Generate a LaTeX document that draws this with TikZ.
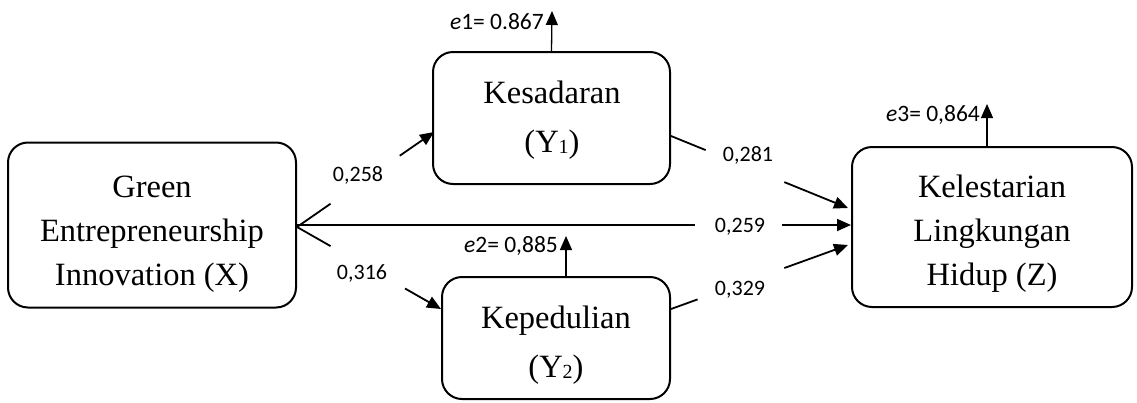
\documentclass[tikz,border=0pt]{standalone}
\usepackage{fontspec}
\setmainfont{Liberation Serif}
\newfontfamily\numfont{Carlito}
\usetikzlibrary{arrows.meta,calc}
\begin{document}
\begin{tikzpicture}[x=1pt,y=-1pt,
  box/.style={draw,line width=2pt,rounded corners=20pt,inner sep=0pt},
  boxtext/.style={align=center,inner sep=0pt},
  conn/.style={line width=1.8pt},
  arr/.style={line width=1.8pt,-{Triangle[length=14pt,width=12pt]}},
  earr/.style={line width=1.3pt,-{Triangle[length=14pt,width=12pt]}},
  coef/.style={font=\numfont\fontsize{22}{22}\selectfont,inner sep=0pt},
  elab/.style={font=\numfont\fontsize{23.5}{23.5}\selectfont,inner sep=0pt,anchor=east}]
\useasboundingbox (0,0) rectangle (1137,402);
\newcommand{\sub}[1]{\raisebox{-1pt}{\fontsize{20}{20}\selectfont #1}}
% boxes
\node[box,minimum width=288pt,minimum height=165pt] (X) at (152,225) {};
\node[boxtext,font=\fontsize{32.5}{44}\selectfont] (Xt) at (152,234) {Green\\Entrepreneurship\\Innovation (X)};
\node[box,minimum width=237pt,minimum height=132pt] (Y1) at (551.5,118) {};
\node[boxtext,font=\fontsize{32.5}{49}\selectfont] (Y1t) at (552,120) {Kesadaran\\(Y\sub{1})};
\node[box,minimum width=228pt,minimum height=122pt] (Y2) at (556,338) {};
\node[boxtext,font=\fontsize{32.5}{49}\selectfont] (Y2t) at (556,345) {Kepedulian\\(Y\sub{2})};
\node[box,minimum width=280pt,minimum height=160pt] (Z) at (992,227) {};
\node[boxtext,font=\fontsize{32.5}{44}\selectfont] (Zt) at (992,234) {Kelestarian\\Lingkungan\\Hidup (Z)};
% anchor coordinates
\coordinate (xs) at ($(X.east)+(0,2)$);
\coordinate (xh) at (X.east);
\coordinate (y1in) at ($(Y1.west)+(2,14)$);
\coordinate (y2in) at ($(Y2.west)+(0,-29)$);
\coordinate (y1out) at ($(Y1.east)+(0,18)$);
\coordinate (y2out) at ($(Y2.east)+(0,-29)$);
\coordinate (z1) at ($(Z.west)+(-3,-19)$);
\coordinate (z2) at (xh -| Z.west);
\coordinate (z3) at ($(Z.west)+(-3,18)$);
% X -> Y1
\draw[conn] (xs) -- ($(xs)!0.245!(y1in)$);
\draw[arr] ($(xs)!0.75!(y1in)$) -- (y1in);
% X -> Y2
\draw[conn] (xs) -- ($(xs)!0.233!(y2in)$);
\draw[arr] ($(xs)!0.75!(y2in)$) -- (y2in);
% X -> Z
\draw[conn] (xh) -- ($(xh)!0.718!(z2)$);
\draw[arr] ($(xh)!0.876!(z2)$) -- (z2);
% Y1 -> Z
\draw[conn] (y1out) -- ($(y1out)!0.196!(z1)$);
\draw[arr] ($(y1out)!0.64!(z1)$) -- (z1);
% Y2 -> Z
\draw[conn] (y2out) -- ($(y2out)!0.15!(z3)$);
\draw[arr] ($(y2out)!0.64!(z3)$) -- (z3);
% coefficients
\node[coef] (c1) at (358,175) {0,258};
\node[coef] (c2) at (362,273) {0,316};
\node[coef] (c3) at (740,227) {0,259};
\node[coef] (c4) at (748,155) {0,281};
\node[coef] (c5) at (740,290) {0,329};
% errors
\coordinate (e1t) at ($(Y1.north)+(0.5,-40)$);
\draw[earr] (Y1.north) -- (e1t);
\node[elab] (e1) at (544,22) {\textit{e}1= 0.867};
\coordinate (e2t) at ($(Y2.north)+(10,-40)$);
\draw[earr] ($(Y2.north)+(10,0)$) -- (e2t);
\node[elab] (e2) at (558,246) {\textit{e}2= 0,885};
\coordinate (e3t) at ($(Z.north)+(-5,-42)$);
\draw[earr] ($(Z.north)+(-5,0)$) -- (e3t);
\node[elab] (e3) at (980,115) {\textit{e}3= 0,864};
\end{tikzpicture}
\end{document}
